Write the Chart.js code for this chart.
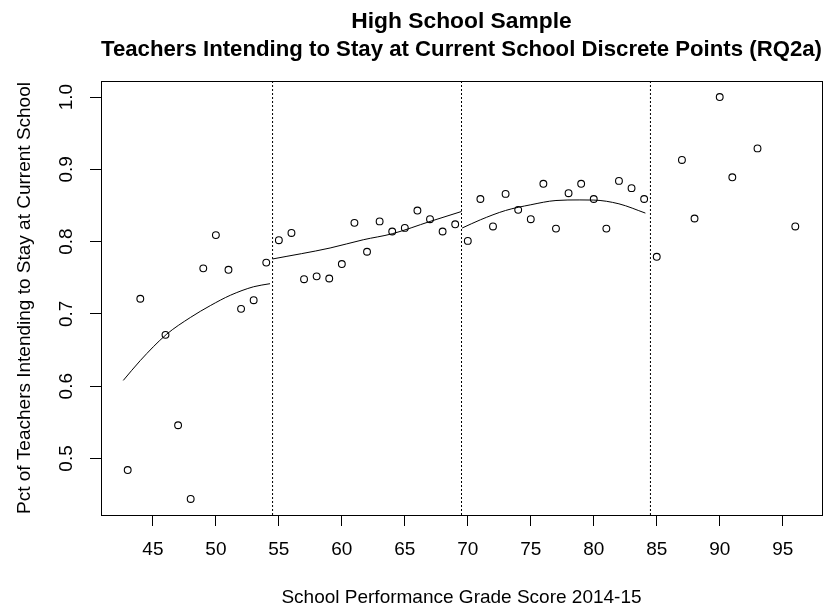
<!DOCTYPE html>
<html>
<head>
<meta charset="utf-8">
<script src="https://cdn.jsdelivr.net/npm/chart.js@4/dist/chart.umd.min.js"></script>
<style>
  html, body { margin: 0; padding: 0; background: #fff; }
  canvas { display: block; }
</style>
</head>
<body>
<canvas id="chart" width="840" height="607"></canvas>
<script>
// School performance grade score and share of teachers intending to stay
const schoolScores = [43, 44, 46, 47, 48, 49, 50, 51, 52, 53, 54,
  55, 56, 57, 58, 59, 60, 61, 62, 63, 64, 65, 66, 67, 68, 69,
  70, 71, 72, 73, 74, 75, 76, 77, 78, 79, 80, 81, 82, 83, 84,
  85, 87, 88, 90, 91, 93, 96];
const stayRates = [0.484, 0.721, 0.671, 0.546, 0.444, 0.763, 0.809, 0.761, 0.707, 0.719, 0.771,
  0.802, 0.812, 0.748, 0.752, 0.749, 0.769, 0.826, 0.786, 0.828, 0.814, 0.819, 0.843, 0.831, 0.814, 0.824,
  0.801, 0.859, 0.821, 0.866, 0.844, 0.831, 0.880, 0.818, 0.867, 0.880, 0.859, 0.818, 0.884, 0.874, 0.859,
  0.779, 0.913, 0.832, 1.000, 0.889, 0.929, 0.821];

// Fitted curves within each score band
const fitLowX = [42.65, 44.0, 46.06, 47.97, 49.56, 51.15, 53.0, 54.3];
const fitLowY = [0.608, 0.6355, 0.6714, 0.695, 0.7115, 0.7258, 0.7376, 0.7418];
const fitMidX = [54.5, 59.07, 61.7, 64.0, 67.0, 69.5];
const fitMidY = [0.776, 0.7912, 0.8026, 0.8109, 0.8279, 0.8417];
const fitHighX = [69.55, 71.0, 73.0, 75.0, 77.0, 78.9, 80.0, 82.0, 84.1];
const fitHighY = [0.8188, 0.8302, 0.8431, 0.851, 0.8569, 0.8577, 0.8575, 0.8523, 0.8395];

// Band boundaries
const cutPoints = [54.5, 69.5, 84.5];

// Axis ticks
const xTickValues = [45, 50, 55, 60, 65, 70, 75, 80, 85, 90, 95];
const yTickValues = [0.5, 0.6, 0.7, 0.8, 0.9, 1.0];

const X_MIN = 40.88, X_MAX = 98.12;
const Y_MIN = 0.4218, Y_MAX = 1.0222;

const FONT = '"Liberation Sans", Arial, Helvetica, sans-serif';
Chart.defaults.font.family = FONT;
Chart.defaults.color = '#000';

const toPoints = (xs, ys) => xs.map((x, i) => ({ x: x, y: ys[i] }));

const curveStyle = {
  type: 'line',
  borderColor: '#000',
  borderWidth: 1,
  pointRadius: 0,
  cubicInterpolationMode: 'monotone',
  fill: false
};

const datasets = [
  {
    type: 'scatter',
    label: 'Schools',
    data: toPoints(schoolScores, stayRates),
    pointStyle: 'circle',
    pointRadius: 3.4,
    pointBorderWidth: 1.1,
    borderColor: '#000',
    backgroundColor: 'rgba(0,0,0,0)',
    pointBackgroundColor: 'rgba(0,0,0,0)',
    pointBorderColor: '#000'
  },
  Object.assign({ label: 'Fit low', data: toPoints(fitLowX, fitLowY) }, curveStyle),
  Object.assign({ label: 'Fit mid', data: toPoints(fitMidX, fitMidY) }, curveStyle),
  Object.assign({ label: 'Fit high', data: toPoints(fitHighX, fitHighY) }, curveStyle)
];

cutPoints.forEach(c => {
  datasets.push({
    type: 'line',
    label: 'Cut ' + c,
    data: [{ x: c, y: Y_MIN }, { x: c, y: Y_MAX }],
    borderColor: '#000',
    borderWidth: 1,
    borderDash: [2, 2],
    pointRadius: 0,
    tension: 0,
    fill: false
  });
});

// Box around the plotting region
const plotFrame = {
  id: 'plotFrame',
  afterDraw(chart) {
    const a = chart.chartArea;
    const ctx = chart.ctx;
    const l = Math.round(a.left - 0.5) + 0.5;
    const r = Math.round(a.right - 0.5) + 0.5;
    const t = Math.round(a.top - 0.5) + 0.5;
    const b = Math.round(a.bottom - 0.5) + 0.5;
    ctx.save();
    ctx.strokeStyle = '#000';
    ctx.lineWidth = 1;
    ctx.strokeRect(l, t, r - l, b - t);
    ctx.restore();
  }
};

new Chart(document.getElementById('chart'), {
  type: 'scatter',
  data: { datasets: datasets },
  options: {
    responsive: false,
    animation: false,
    devicePixelRatio: 1,
    layout: { padding: { top: 0, right: 18, bottom: 0, left: 0 } },
    plugins: {
      legend: { display: false },
      tooltip: { enabled: false },
      title: {
        display: true,
        fullSize: false,
        text: ['High School Sample', 'Teachers Intending to Stay at Current School Discrete Points (RQ2a)'],
        color: '#000',
        font: { family: FONT, size: 22.8, weight: 'bold', lineHeight: 1.2 },
        padding: { top: 8.3, bottom: 18 }
      }
    },
    scales: {
      x: {
        type: 'linear',
        position: 'bottom',
        min: X_MIN,
        max: X_MAX,
        afterBuildTicks: s => { s.ticks = xTickValues.map(v => ({ value: v })); },
        afterFit: s => { s.height = 92; },
        ticks: {
          font: { size: 19 },
          color: '#000',
          padding: 12.6,
          autoSkip: false,
          maxRotation: 0,
          minRotation: 0,
          callback: v => String(v)
        },
        grid: { drawOnChartArea: false, drawTicks: true, tickLength: 11, color: '#000', lineWidth: 1 },
        border: { display: true, color: '#000', width: 1 },
        title: {
          display: true,
          text: 'School Performance Grade Score 2014-15',
          color: '#000',
          font: { size: 19, lineHeight: 1 },
          padding: { top: 0, bottom: 0 }
        }
      },
      y: {
        type: 'linear',
        position: 'left',
        min: Y_MIN,
        max: Y_MAX,
        afterBuildTicks: s => { s.ticks = yTickValues.map(v => ({ value: v })); },
        afterFit: s => { s.width = 101; },
        ticks: {
          font: { size: 19 },
          color: '#000',
          padding: 9.8,
          autoSkip: false,
          minRotation: 90,
          maxRotation: 90,
          crossAlign: 'center',
          callback: v => Number(v).toFixed(1)
        },
        grid: { drawOnChartArea: false, drawTicks: true, tickLength: 11, color: '#000', lineWidth: 1 },
        border: { display: true, color: '#000', width: 1 },
        title: {
          display: true,
          text: 'Pct of Teachers Intending to Stay at Current School',
          color: '#000',
          font: { size: 19, lineHeight: 1 },
          padding: { top: 15.5, bottom: 0 }
        }
      }
    }
  },
  plugins: [plotFrame]
});
</script>
</body>
</html>
